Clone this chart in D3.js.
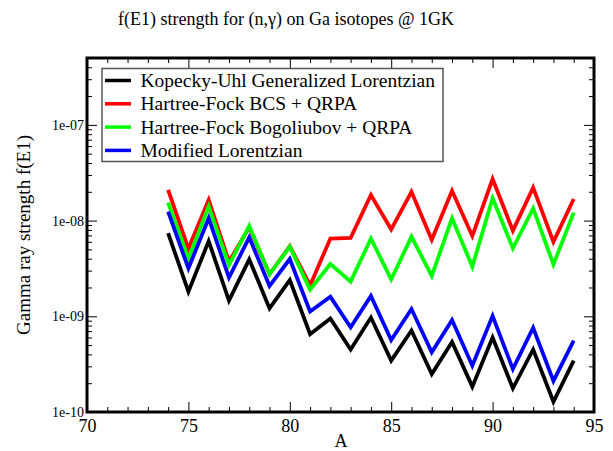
<!DOCTYPE html>
<html>
<head>
<meta charset="utf-8">
<script src="https://cdn.jsdelivr.net/npm/d3@7"></script>
<style>
  html, body { margin: 0; padding: 0; background: #fff; }
  svg { display: block; }
  svg text { font-family: "Liberation Serif", "Times New Roman", Times, "DejaVu Serif", serif; }
</style>
</head>
<body>
<svg id="chart" width="613" height="451"></svg>
<script>
const massNumbers = [74, 75, 76, 77, 78, 79, 80, 81, 82, 83, 84, 85, 86, 87, 88, 89, 90, 91, 92, 93, 94];

const kopeckyUhl = [7.4e-9, 1.81e-9, 6.1e-9, 1.46e-9, 3.94e-9, 1.21e-9, 2.39e-9, 6.5e-10, 9.5e-10, 4.5e-10, 9.7e-10, 3.44e-10, 7.1e-10, 2.49e-10, 5.4e-10, 1.84e-10, 6.0e-10, 1.77e-10, 4.5e-10, 1.28e-10, 3.44e-10];
const hfBcsQrpa = [2.09e-8, 5.1e-9, 1.64e-8, 3.72e-9, 8.5e-9, 2.75e-9, 5.4e-9, 2.1e-9, 6.5e-9, 6.6e-9, 1.85e-8, 8.1e-9, 2.0e-8, 6.3e-9, 2.05e-8, 6.9e-9, 2.72e-8, 7.85e-9, 2.21e-8, 6.0e-9, 1.68e-8];
const hfbQrpa = [1.54e-8, 4.0e-9, 1.4e-8, 3.44e-9, 8.78e-9, 2.75e-9, 5.34e-9, 1.9e-9, 3.52e-9, 2.3e-9, 6.5e-9, 2.43e-9, 6.8e-9, 2.64e-9, 1.06e-8, 3.3e-9, 1.71e-8, 5.14e-9, 1.34e-8, 3.49e-9, 1.21e-8];
const modifiedLorentzian = [1.24e-8, 3.17e-9, 1.06e-8, 2.53e-9, 6.69e-9, 2.07e-9, 3.97e-9, 1.12e-9, 1.6e-9, 7.67e-10, 1.63e-9, 5.65e-10, 1.19e-9, 4.2e-10, 9.15e-10, 3.05e-10, 1.01e-9, 2.81e-10, 7.6e-10, 2.11e-10, 5.56e-10];

const seriesNames = ["Kopecky-Uhl Generalized Lorentzian", "Hartree-Fock BCS + QRPA", "Hartree-Fock Bogoliubov + QRPA", "Modified Lorentzian"];
const seriesColors = ["#000000", "#ff0000", "#00ff00", "#0000ff"];
const seriesValues = [kopeckyUhl, hfBcsQrpa, hfbQrpa, modifiedLorentzian];

const xTickValues = [70, 75, 80, 85, 90, 95];
const xTickLabels = ["70", "75", "80", "85", "90", "95"];
const yTickValues = [1e-10, 1e-9, 1e-8, 1e-7];
const yTickLabels = ["1e-10", "1e-09", "1e-08", "1e-07"];

const titleText = "f(E1) strength for (n,\u03b3) on Ga isotopes @ 1GK";
const xLabelText = "A";
const yLabelText = "Gamma ray strength f(E1)";

(function () {
const svg = d3.select("#chart");
const pLeft = 87, pRight = 594, pTop = 58, pBottom = 412;
const serif = '"Liberation Serif", "Times New Roman", Times, "DejaVu Serif", serif';

const x = d3.scaleLinear().domain([70, 95]).range([pLeft, pRight]);
const y = d3.scaleLog().domain([1e-10, 5e-7]).range([pBottom, pTop]);

const xMinor = d3.range(70, 96, 1).filter(v => !xTickValues.includes(v));
const yMinor = [];
for (let e = -10; e <= -7; e++) {
  for (let m = 2; m <= 9; m++) {
    const v = m * Math.pow(10, e);
    if (v <= 5e-7) yMinor.push(v);
  }
}

function styleAxis(g) {
  g.select(".domain").remove();
  g.selectAll(".tick line").attr("stroke", "#000").attr("stroke-width", 1);
}

svg.append("g").attr("transform", `translate(0,${pBottom})`)
  .call(d3.axisBottom(x).tickValues(xTickValues).tickSize(-10).tickPadding(7)
    .tickFormat((d, i) => xTickLabels[i]))
  .call(styleAxis)
  .call(g => g.selectAll("text").attr("font-size", 18).attr("fill", "#000")
    .attr("font-family", serif));
svg.append("g").attr("transform", `translate(0,${pBottom})`)
  .call(d3.axisBottom(x).tickValues(xMinor).tickSize(-5).tickFormat(""))
  .call(styleAxis);
svg.append("g").attr("transform", `translate(0,${pTop})`)
  .call(d3.axisTop(x).tickValues(xTickValues).tickSize(-10).tickFormat(""))
  .call(styleAxis);
svg.append("g").attr("transform", `translate(0,${pTop})`)
  .call(d3.axisTop(x).tickValues(xMinor).tickSize(-5).tickFormat(""))
  .call(styleAxis);
svg.append("g").attr("transform", `translate(${pLeft},0)`)
  .call(d3.axisLeft(y).tickValues(yTickValues).tickSize(-10).tickPadding(3)
    .tickFormat((d, i) => yTickLabels[i]))
  .call(styleAxis)
  .call(g => g.selectAll("text").attr("font-size", 14).attr("fill", "#000")
    .attr("font-family", serif));
svg.append("g").attr("transform", `translate(${pLeft},0)`)
  .call(d3.axisLeft(y).tickValues(yMinor).tickSize(-5).tickFormat(""))
  .call(styleAxis);
svg.append("g").attr("transform", `translate(${pRight},0)`)
  .call(d3.axisRight(y).tickValues(yTickValues).tickSize(-10).tickFormat(""))
  .call(styleAxis);
svg.append("g").attr("transform", `translate(${pRight},0)`)
  .call(d3.axisRight(y).tickValues(yMinor).tickSize(-5).tickFormat(""))
  .call(styleAxis);

const line = d3.line().x(d => x(d[0])).y(d => y(d[1]));
seriesValues.forEach((vals, i) => {
  svg.append("path")
    .datum(massNumbers.map((a, j) => [a, vals[j]]))
    .attr("fill", "none")
    .attr("stroke", seriesColors[i])
    .attr("stroke-width", 3.8)
    .attr("stroke-linejoin", "miter")
    .attr("d", line);
});

svg.append("rect")
  .attr("x", pLeft).attr("y", pTop)
  .attr("width", pRight - pLeft).attr("height", pBottom - pTop)
  .attr("fill", "none").attr("stroke", "#000").attr("stroke-width", 3);

const lg = svg.append("g");
lg.append("rect").attr("x", 102).attr("y", 68.5).attr("width", 341).attr("height", 93)
  .attr("fill", "#fff").attr("stroke", "#555").attr("stroke-width", 1.5);
seriesNames.forEach((name, i) => {
  const yy = 80.5 + i * 23.3;
  lg.append("line").attr("x1", 105).attr("x2", 131).attr("y1", yy).attr("y2", yy)
    .attr("stroke", seriesColors[i]).attr("stroke-width", 3.5);
  lg.append("text").attr("x", 140.5).attr("y", yy + 6.5).attr("font-size", 19.5)
    .attr("font-family", serif).attr("fill", "#000").text(name);
});

svg.append("text").attr("x", 286).attr("y", 25).attr("text-anchor", "middle")
  .attr("font-size", 18).attr("font-family", serif).attr("fill", "#000").text(titleText);
svg.append("text").attr("x", 341).attr("y", 447).attr("text-anchor", "middle")
  .attr("font-size", 18).attr("font-family", serif).attr("fill", "#000").text(xLabelText);
svg.append("text").attr("transform", `translate(30,${(pTop + pBottom) / 2}) rotate(-90)`)
  .attr("text-anchor", "middle").attr("font-size", 19).attr("font-family", serif)
  .attr("fill", "#000").text(yLabelText);
})();
</script>
</body>
</html>
